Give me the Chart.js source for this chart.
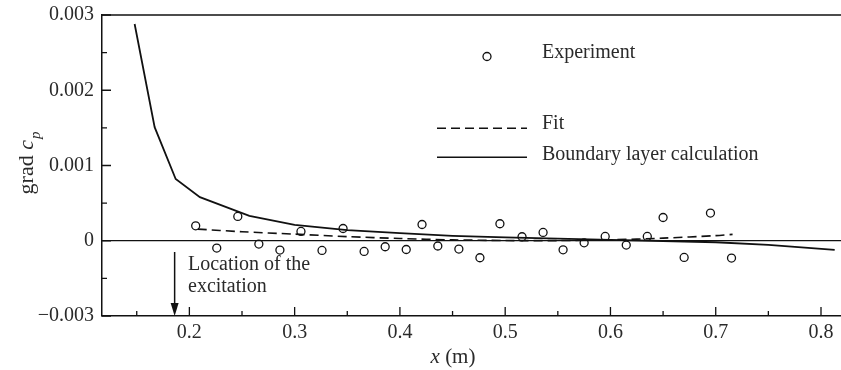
<!DOCTYPE html>
<html>
<head>
<meta charset="utf-8">
<script src="https://cdn.jsdelivr.net/npm/chart.js@4.4.1/dist/chart.umd.min.js"></script>
<style>
  html, body { margin: 0; padding: 0; background: #fff; }
  #wrap { width: 841px; height: 370px; }
</style>
</head>
<body>
<div id="wrap"><canvas id="gradChart"></canvas></div>
<script>
// measured pressure gradient along the plate
const expX = [0.206, 0.226, 0.246, 0.266, 0.286, 0.306, 0.326, 0.346, 0.366, 0.386, 0.406, 0.421, 0.436, 0.456,
              0.476, 0.495, 0.516, 0.536, 0.555, 0.575, 0.595, 0.615, 0.635, 0.650, 0.670, 0.695, 0.715];
const expY = [0.000199, -0.000097, 0.000323, -0.000044, -0.000124, 0.000124, -0.000129, 0.000163, -0.000142,
              -0.000080, -0.000116, 0.000216, -0.000070, -0.000110, -0.000226, 0.000226, 0.000053, 0.000110,
              -0.000120, -0.000027, 0.000057, -0.000057, 0.000057, 0.000309, -0.000222, 0.000368, -0.000230];

// fitted curve
const fitX = [0.208, 0.25, 0.30, 0.35, 0.40, 0.45, 0.50, 0.55, 0.60, 0.65, 0.70, 0.716];
const fitY = [0.000155, 0.000120, 0.000088, 0.000055, 0.000030, 0.000012, 0.000003, 0.000002, 0.000012,
              0.000035, 0.000068, 0.000085];

// boundary layer calculation
const blX = [0.148, 0.167, 0.187, 0.210, 0.257, 0.30, 0.35, 0.40, 0.45, 0.50, 0.55, 0.60, 0.65, 0.70, 0.75, 0.813];
const blY = [0.00288, 0.00151, 0.00082, 0.00058, 0.00033, 0.00021, 0.00014, 0.00010, 0.000065, 0.000045,
             0.000028, 0.000012, -0.000003, -0.000020, -0.000055, -0.000120];

const xTicks = [0.2, 0.3, 0.4, 0.5, 0.6, 0.7, 0.8];
const xMinor = [0.15, 0.25, 0.35, 0.45, 0.55, 0.65, 0.75];
const yTicks = [-0.001, 0, 0.001, 0.002, 0.003];
const yMinor = [-0.0005, 0.0005, 0.0015, 0.0025];
const yTickText = ['\u22120.003', '0', '0.001', '0.002', '0.003'];

const excitationX = 0.186;

const INK = '#111';
const TEXT = '#2a2a2a';
const SERIF = '"Liberation Serif", "Times New Roman", serif';

const pts = (xs, ys) => xs.map((x, i) => ({ x: x, y: ys[i] }));

// frame, inward ticks, legend, axis titles and the excitation arrow
const decorations = {
    id: 'decorations',
    afterDraw(chart) {
        const c = chart.ctx;
        const a = chart.chartArea;
        const xs = chart.scales.x;
        const ys = chart.scales.y;
        c.save();
        c.strokeStyle = INK;
        c.lineWidth = 1.5;

        // top frame line
        c.beginPath();
        c.moveTo(a.left, a.top);
        c.lineTo(a.right, a.top);
        c.stroke();

        c.lineWidth = 1.3;
        c.beginPath();
        xTicks.forEach(v => { const p = xs.getPixelForValue(v); c.moveTo(p, a.bottom); c.lineTo(p, a.bottom - 9); });
        xMinor.forEach(v => { const p = xs.getPixelForValue(v); c.moveTo(p, a.bottom); c.lineTo(p, a.bottom - 5); });
        yTicks.forEach(v => { const p = ys.getPixelForValue(v); c.moveTo(a.left, p); c.lineTo(a.left + 9, p); });
        yMinor.forEach(v => { const p = ys.getPixelForValue(v); c.moveTo(a.left, p); c.lineTo(a.left + 5, p); });
        c.stroke();

        // legend
        c.fillStyle = TEXT;
        c.font = '20px ' + SERIF;
        c.textBaseline = 'middle';
        c.textAlign = 'left';
        c.fillText('Experiment', 542, 53);
        c.fillText('Fit', 542, 124);
        c.fillText('Boundary layer calculation', 542, 155);

        c.lineWidth = 1.3;
        c.beginPath();
        c.arc(487, 56.5, 4, 0, Math.PI * 2);
        c.stroke();

        c.lineWidth = 1.6;
        c.setLineDash([9, 5]);
        c.beginPath();
        c.moveTo(437, 128.3);
        c.lineTo(527, 128.3);
        c.stroke();
        c.setLineDash([]);
        c.beginPath();
        c.moveTo(437, 157.3);
        c.lineTo(527, 157.3);
        c.stroke();

        // excitation marker
        const ax = xs.getPixelForValue(excitationX);
        c.lineWidth = 1.5;
        c.beginPath();
        c.moveTo(ax, 252);
        c.lineTo(ax, a.bottom - 10);
        c.stroke();
        c.fillStyle = INK;
        c.beginPath();
        c.moveTo(ax - 4, a.bottom - 13);
        c.lineTo(ax + 4, a.bottom - 13);
        c.lineTo(ax, a.bottom);
        c.closePath();
        c.fill();

        c.fillStyle = TEXT;
        c.fillText('Location of the', 188, 265);
        c.fillText('excitation', 188, 287);

        // x axis title
        c.textBaseline = 'alphabetic';
        c.font = 'italic 21px ' + SERIF;
        const xPart = 'x';
        const xw = c.measureText(xPart).width;
        c.font = '21px ' + SERIF;
        const mPart = ' (m)';
        const mw = c.measureText(mPart).width;
        let sx = 453 - (xw + mw) / 2;
        c.font = 'italic 21px ' + SERIF;
        c.fillText(xPart, sx, 363);
        c.font = '21px ' + SERIF;
        c.fillText(mPart, sx + xw, 363);

        // y axis title
        c.translate(33, 163);
        c.rotate(-Math.PI / 2);
        c.font = '22px ' + SERIF;
        const gw = c.measureText('grad ').width;
        c.font = 'italic 22px ' + SERIF;
        const cw = c.measureText('c').width;
        c.font = 'italic 15px ' + SERIF;
        const pw = c.measureText('p').width;
        let tx = -(gw + cw + pw + 1) / 2;
        c.font = '22px ' + SERIF;
        c.fillText('grad ', tx, 0);
        c.font = 'italic 22px ' + SERIF;
        c.fillText('c', tx + gw, 0);
        c.font = 'italic 15px ' + SERIF;
        c.fillText('p', tx + gw + cw + 1, 7);

        c.restore();
    }
};

new Chart(document.getElementById('gradChart').getContext('2d'), {
    type: 'scatter',
    data: {
        datasets: [
            {
                label: 'Experiment',
                data: pts(expX, expY),
                showLine: false,
                pointStyle: 'circle',
                pointRadius: 4,
                pointBorderWidth: 1.3,
                pointBorderColor: INK,
                pointBackgroundColor: 'rgba(255,255,255,0)'
            },
            {
                label: 'Fit',
                data: pts(fitX, fitY),
                showLine: true,
                borderColor: INK,
                borderWidth: 1.6,
                borderDash: [9, 5],
                pointRadius: 0,
                tension: 0.3
            },
            {
                label: 'Boundary layer calculation',
                data: pts(blX, blY),
                showLine: true,
                borderColor: INK,
                borderWidth: 1.8,
                pointRadius: 0,
                tension: 0
            }
        ]
    },
    options: {
        responsive: true,
        maintainAspectRatio: false,
        animation: false,
        events: [],
        layout: { autoPadding: false, padding: { top: 15, right: 0, left: 0, bottom: 0 } },
        plugins: {
            legend: { display: false },
            tooltip: { enabled: false }
        },
        scales: {
            x: {
                type: 'linear',
                min: 0.117,
                max: 0.819,
                afterBuildTicks: s => { s.ticks = xTicks.map(v => ({ value: v })); },
                afterFit: s => { s.height = 54; s.paddingLeft = 0; s.paddingRight = 0; },
                grid: { display: false, drawTicks: false },
                border: { display: true, color: INK, width: 1.5 },
                ticks: {
                    padding: 5,
                    color: TEXT,
                    font: { family: SERIF, size: 20 },
                    callback: v => v.toFixed(1)
                }
            },
            y: {
                type: 'linear',
                min: -0.001,
                max: 0.003,
                afterBuildTicks: s => { s.ticks = yTicks.map(v => ({ value: v })); },
                afterFit: s => { s.width = 102; s.paddingTop = 0; s.paddingBottom = 0; },
                grid: {
                    drawTicks: false,
                    lineWidth: 1.2,
                    color: ctx => (ctx.tick && ctx.tick.value === 0) ? INK : 'rgba(0,0,0,0)'
                },
                border: { display: true, color: INK, width: 1.5 },
                ticks: {
                    padding: 8,
                    color: TEXT,
                    font: { family: SERIF, size: 20 },
                    callback: (v, i) => yTickText[yTicks.indexOf(v)] ?? ''
                }
            }
        }
    },
    plugins: [decorations]
});
</script>
</body>
</html>
